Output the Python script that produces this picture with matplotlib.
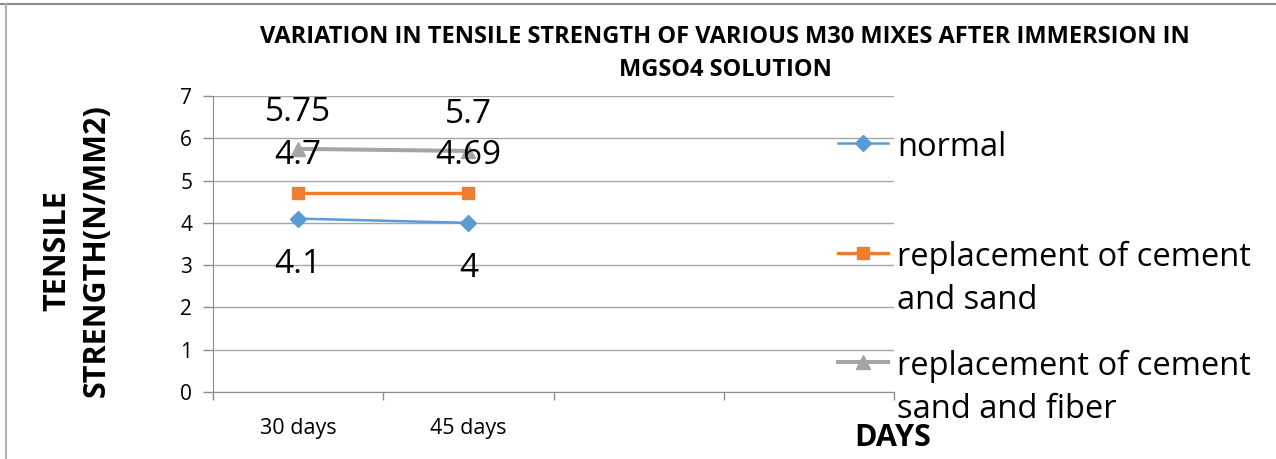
import matplotlib.pyplot as plt
from matplotlib.lines import Line2D

plt.rcParams['font.family'] = ['Open Sans', 'DejaVu Sans']

# data
categories = ['30 days', '45 days', '', '']
normal = [4.1, 4.0]
rep_cs = [4.7, 4.7]
rep_csf = [5.75, 5.7]
lbl_normal = ['4.1', '4']
lbl_cs = ['4.7', '4.69']
lbl_csf = ['5.75', '5.7']
names = [['normal'], ['replacement of cement', 'and sand'],
         ['replacement of cement', 'sand and fiber']]
colors = ['#5B9BD5', '#ED7D31', '#A5A5A5']

W, H = 1276, 459
fig = plt.figure(figsize=(W / 100, H / 100), dpi=100)
ax = fig.add_axes([213 / W, 1 - 392 / H, (894 - 213) / W, (392 - 96) / H])

x = [0, 1]
ax.plot(x, normal, color=colors[0], lw=1.8, marker='D', ms=8.5, zorder=3)
ax.plot(x, rep_cs, color=colors[1], lw=2.4, marker='s', ms=9, zorder=3)
ax.plot(x, rep_csf, color=colors[2], lw=2.9, marker='^', ms=10, zorder=3)

for xi, v, t in zip(x, rep_csf, lbl_csf):
    ax.annotate(t, (xi, v), xytext=(0, 26), textcoords='offset points',
                ha='center', va='center', fontsize=24)
for xi, v, t in zip(x, rep_cs, lbl_cs):
    ax.annotate(t, (xi, v), xytext=(0, 27), textcoords='offset points',
                ha='center', va='center', fontsize=24)
for xi, v, t in zip(x, normal, lbl_normal):
    ax.annotate(t, (xi, v), xytext=(0, -33), textcoords='offset points',
                ha='center', va='center', fontsize=24)

ax.set_xlim(-0.5, len(categories) - 0.5)
ax.set_ylim(0, 7)
ax.set_yticks(range(0, 8))
ax.set_xticks(range(len(categories)))
ax.set_xticklabels(categories, fontsize=15.5)
ax.set_xticks([i - 0.5 for i in range(len(categories) + 1)], minor=True)
ax.tick_params(axis='x', which='major', length=0, pad=19)
ax.tick_params(axis='x', which='minor', length=6, color='#8C8C8C', width=1)
ax.tick_params(axis='y', length=7, color='#8C8C8C', width=1, labelsize=15, pad=8)
ax.grid(axis='y', color='#A6A6A6', lw=1)
ax.set_axisbelow(True)
for s in ['top', 'right']:
    ax.spines[s].set_visible(False)
for s in ['left', 'bottom']:
    ax.spines[s].set_color('#8C8C8C')

# y label, two lines
fig.text(57 / W, 1 - 251 / H, 'TENSILE', rotation=90, ha='center', va='center',
         fontsize=22, fontweight='bold')
fig.text(97 / W, 1 - 251 / H, 'STRENGTH(N/MM2)', rotation=90, ha='center',
         va='center', fontsize=22, fontweight='bold')
fig.text(893 / W, 1 - 438 / H, 'DAYS', ha='center', va='center',
         fontsize=22, fontweight='bold')

fig.text(725 / W, 1 - 37 / H, 'VARIATION IN TENSILE STRENGTH OF VARIOUS M30 MIXES AFTER IMMERSION IN',
         ha='center', va='center', fontsize=17, fontweight='bold')
fig.text(725 / W, 1 - 70 / H, 'MGSO4 SOLUTION', ha='center', va='center',
         fontsize=17, fontweight='bold')

# legend drawn by hand to match the layout
markers = ['D', 's', '^']
mss = [8, 9, 10]
lws = [1.8, 2.4, 2.9]
hy = [143, 253, 362]
for c, m, ms, lw, y, lines in zip(colors, markers, mss, lws, hy, names):
    yy = 1 - y / H
    fig.add_artist(Line2D([838 / W, 888 / W], [yy, yy], color=c, lw=lw,
                          transform=fig.transFigure))
    fig.add_artist(Line2D([863 / W], [yy], color=c, marker=m, ms=ms,
                          transform=fig.transFigure))
    for i, t in enumerate(lines):
        fig.text(897 / W, 1 - (y + 13 + 43 * i) / H, t, ha='left',
                 va='baseline', fontsize=23.5)

# outer frame (top and left edges)
fig.add_artist(Line2D([0, 1], [1 - 4 / H, 1 - 4 / H], color='#8C8C8C', lw=1.5,
                      transform=fig.transFigure))
fig.add_artist(Line2D([6 / W, 6 / W], [0, 1 - 4 / H], color='#B0B0B0', lw=1.5,
                      transform=fig.transFigure))

fig.savefig('out.png', dpi=100)
